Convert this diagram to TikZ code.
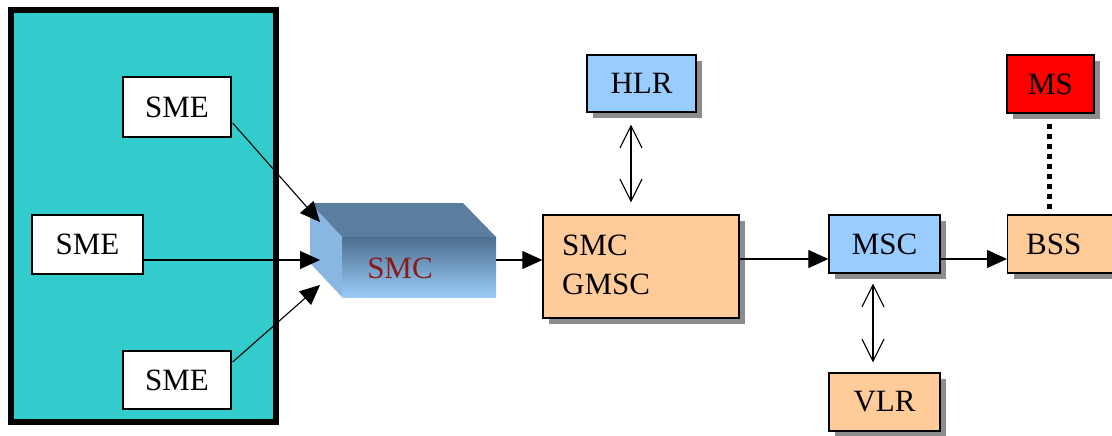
\documentclass[tikz,border=0pt]{standalone}
\usepackage{fontspec}
\setmainfont{Liberation Serif}
\usetikzlibrary{arrows.meta,shadows,calc}
\definecolor{teal1}{HTML}{33CCCC}
\definecolor{lblue}{HTML}{99CCFF}
\definecolor{peach}{HTML}{FFCC99}
\definecolor{msred}{HTML}{FF0000}
\definecolor{smctop}{HTML}{5B7E9E}
\definecolor{smcleft}{HTML}{8AB6E4}
\definecolor{smcfront1}{HTML}{4C6E8F}
\definecolor{smcfront2}{HTML}{9ACCF8}
\definecolor{smctext}{HTML}{8B1A1A}
\begin{document}
\begin{tikzpicture}[x=1pt,y=-1pt,
  every node/.style={font=\fontsize{31}{36}\selectfont, inner sep=0pt},
  plainbox/.style={draw=black, line width=1.3pt, fill=white},
  shbox/.style={draw=black, line width=1.3pt,
     drop shadow={shadow xshift=6pt,shadow yshift=-6pt,fill=black!45,opacity=1}},
  farrow/.style={line width=1.1pt, -{Triangle[length=20pt,width=18pt]}},
  oarrow/.style={line width=1.1pt, {Straight Barb[length=22pt,width=22pt]}-{Straight Barb[length=22pt,width=22pt]}}
]
\useasboundingbox (0,0) rectangle (1112,436);
\clip (0,0) rectangle (1112,436);
\fill[white] (0,0) rectangle (1112,436);

% left container
\draw[line width=6pt, fill=teal1] (11,10) rectangle (275.5,422);

% SME nodes
\node[plainbox, minimum width=108pt, minimum height=60pt] (sme1) at (177,107) {SME};
\node[plainbox, minimum width=111pt, minimum height=59pt] (sme2) at (87.5,244.5) {SME};
\node[plainbox, minimum width=108pt, minimum height=58pt] (sme3) at (177,380) {SME};

% SMC 3D box
\fill[smctop] (310,203) -- (463,203) -- (496,237) -- (342,237) -- cycle;
\fill[smcleft] (310,203) -- (342,237) -- (342,297) -- (310,263) -- cycle;
\shade[top color=smcfront1, bottom color=smcfront2] (342,237) rectangle (496,297);
\node[text=smctext] (smc) at (400,268) {SMC};
\coordinate (smcin1) at (320,222);
\coordinate (smcin2) at (320,260);
\coordinate (smcin3) at (320,285);
\coordinate (smcout) at (496,260);

% other nodes
\node[shbox, fill=lblue, minimum width=109pt, minimum height=57pt] (hlr) at (641.5,83.5) {HLR};
\node[shbox, fill=peach, minimum width=196pt, minimum height=103pt] (smcg) at (641,266.5) {};
\node[anchor=west] (smcgt1) at (562,245) {SMC};
\node[anchor=west] (smcgt2) at (562,284) {GMSC};
\node[shbox, fill=lblue, minimum width=111pt, minimum height=58pt] (msc) at (884.5,244) {MSC};
\node[shbox, fill=peach, minimum width=111pt, minimum height=58pt] (vlr) at (884.5,402) {VLR};
\node[shbox, fill=msred, minimum width=87pt, minimum height=58pt] (ms) at (1050.5,84) {MS};
\node[shbox, fill=peach, minimum width=140pt, minimum height=58pt, anchor=west] (bss) at (1007,244) {};
\node[anchor=west] (bsst) at (1026,244) {BSS};

% connectors
\draw[farrow] ($(sme1.east)+(1,16)$) -- (smcin1);
\draw[farrow] ($(sme2.east)+(0,15.5)$) -- (smcin2);
\draw[farrow] ($(sme3.east)+(1,-18)$) -- (smcin3);
\draw[farrow] (smcout) -- (smcout -| smcg.west);
\draw[farrow] ($(smcg.east)+(0,-7.5)$) -- ($(msc.west)+(0,15)$);
\draw[farrow] ($(msc.east)+(0,15)$) -- ($(bss.west)+(0,15)$);
\draw[oarrow] ($(hlr.south)+(-10.5,12)$) -- ($(smcg.north)+(-10,-12)$);
\draw[oarrow] ($(msc.south)+(-11.5,10)$) -- ($(vlr.north)+(-11.5,-10)$);
\draw[line width=5pt, dash pattern=on 5pt off 5pt] ($(ms.south)+(-1.5,10)$) -- ($(bss.west)+(42,-29)$);
\end{tikzpicture}
\end{document}
